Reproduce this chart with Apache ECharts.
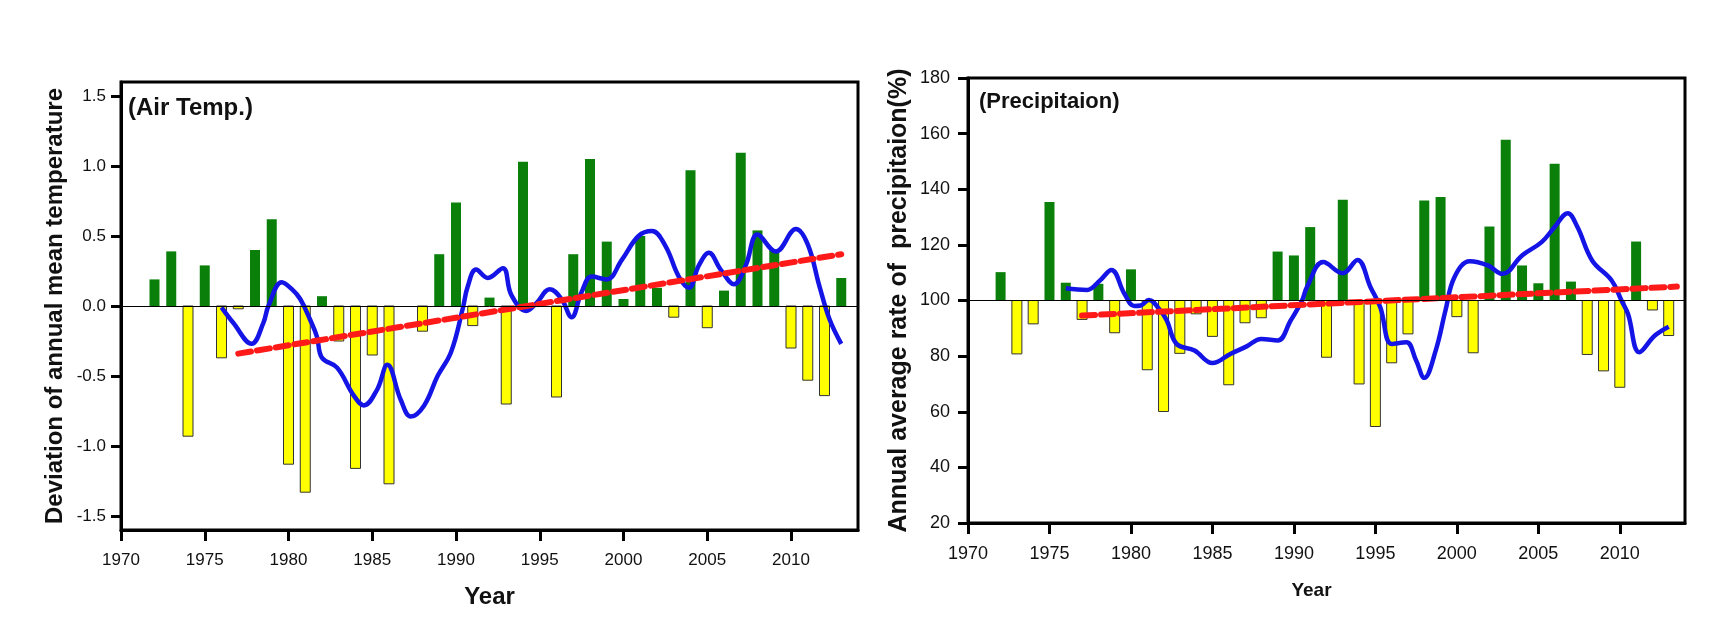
<!DOCTYPE html>
<html><head><meta charset="utf-8">
<script src="https://cdn.jsdelivr.net/npm/echarts@6/dist/echarts.min.js"></script>
<style>html,body{margin:0;padding:0;background:#fff}#c{width:1732px;height:629px}</style>
</head><body><div id="c"></div>
<script>
const FONT = '"Liberation Sans", Arial, sans-serif';

// ---- shared ticks ----
const xTickYears = [1970, 1975, 1980, 1985, 1990, 1995, 2000, 2005, 2010];
const tempTicks = [-1.5, -1.0, -0.5, 0, 0.5, 1.0, 1.5];
const precipTicks = [20, 40, 60, 80, 100, 120, 140, 160, 180];

// ---- left panel: air temperature deviation ----
const tempYears = [1972,1973,1974,1975,1976,1977,1978,1979,1980,1981,1982,1983,1984,1985,1986,1988,1989,1990,1991,1992,1993,1994,1996,1997,1998,1999,2000,2001,2002,2003,2004,2005,2006,2007,2008,2009,2010,2011,2012,2013];
const tempDev = [0.19,0.39,-0.93,0.29,-0.37,-0.02,0.40,0.62,-1.13,-1.33,0.07,-0.25,-1.16,-0.35,-1.27,-0.18,0.37,0.74,-0.14,0.06,-0.70,1.03,-0.65,0.37,1.05,0.46,0.05,0.50,0.13,-0.08,0.97,-0.155,0.11,1.095,0.54,0.40,-0.30,-0.53,-0.64,0.20];
const tempSmoothX = [1976.0,1976.7,1977.8,1978.5,1978.8,1979.6,1980.2,1980.7,1981.3,1981.7,1982.0,1982.9,1983.9,1984.5,1985.3,1985.9,1986.7,1987.3,1988.1,1988.9,1989.7,1990.4,1990.7,1991.2,1991.9,1992.8,1993.3,1994.2,1994.8,1995.6,1996.3,1996.9,1997.5,1998.1,1999.0,1999.9,2000.9,2001.7,2002.5,2003.3,2003.9,2004.5,2005.1,2005.8,2006.6,2007.3,2008.0,2009.1,2010.3,2011.0,2011.7,2012.3,2013.0];
const tempSmoothY = [-0.01,-0.12,-0.27,-0.12,0.0,0.17,0.12,0.05,-0.10,-0.22,-0.37,-0.44,-0.64,-0.71,-0.595,-0.42,-0.67,-0.79,-0.71,-0.50,-0.33,-0.02,0.14,0.26,0.20,0.27,0.08,-0.035,0.02,0.12,0.05,-0.08,0.10,0.21,0.19,0.33,0.50,0.535,0.43,0.21,0.13,0.29,0.38,0.26,0.155,0.29,0.51,0.39,0.55,0.44,0.14,-0.095,-0.27];
const tempTrendX = [1977, 2013];
const tempTrendY = [-0.34, 0.37];

// ---- right panel: precipitation rate ----
const precipYears = [1972,1973,1974,1975,1976,1977,1978,1979,1980,1981,1982,1983,1984,1985,1986,1987,1988,1989,1990,1991,1992,1993,1994,1995,1996,1997,1998,1999,2000,2001,2002,2003,2004,2005,2006,2007,2008,2009,2010,2011,2012,2013];
const precipRate = [110.2,80.8,91.6,135.4,106.4,93.2,106.0,88.4,111.2,75.1,60.1,81.0,95.2,87.1,69.7,92.0,93.8,117.6,116.2,126.4,79.6,136.2,70.0,54.7,77.6,88.0,136.0,137.2,94.2,81.2,126.6,157.8,112.6,106.2,149.2,106.8,80.6,74.7,68.8,121.2,96.6,87.4];
const precipSmoothX = [1976.0,1977.3,1978.1,1978.8,1979.6,1980.2,1980.6,1981.1,1981.8,1982.2,1982.8,1983.9,1985.0,1986.1,1987.1,1988.0,1989.0,1989.8,1990.5,1990.8,1991.8,1993.0,1993.9,1994.7,1995.3,1996.0,1996.9,1997.5,1998.0,1998.7,1999.3,1999.85,2000.8,2001.9,2002.8,2004.0,2005.2,2006.0,2006.8,2007.4,2008.3,2009.5,2010.1,2010.5,2011.2,2012.15,2013.0];
const precipSmoothY = [104.4,103.8,107.2,111.0,102.4,98.0,98.2,100.2,96.4,92.8,84.4,82.0,77.5,80.8,83.5,86.2,85.6,92.8,100,104.8,113.8,109.8,114.6,104.8,97.6,84.4,85.0,78.4,72.2,82.0,96.4,108.4,114.1,112.6,109.6,116.2,121.0,126.4,131.4,126.4,114.4,107.2,100,95.2,81.4,87.4,90.6];
const precipTrendX = [1977, 2013.5];
const precipTrendY = [94.6, 105.0];

const zip = (a, b) => a.map((v, i) => [v, b[i]]);

function makeBars(base) {
  return function (params, api) {
    const x = api.value(0), v = api.value(1);
    const p0 = api.coord([x, base]);
    const p1 = api.coord([x, v]);
    const w = 10;
    const up = v >= base;
    return {
      type: 'rect',
      shape: { x: p0[0] - w / 2, y: Math.min(p0[1], p1[1]), width: w, height: Math.abs(p1[1] - p0[1]) },
      style: up ? { fill: '#0a800a' } : { fill: '#ffff00', stroke: '#333', lineWidth: 1 }
    };
  };
}

function xAxisCfg(gi, fs, gap, nameFs, pad) {
  return {
    type: 'value', gridIndex: gi, min: 1970, max: 2014,
    axisLine: { show: true, onZero: false, lineStyle: { color: '#000', width: 3 } },
    axisTick: { show: true, customValues: xTickYears, length: 11, lineStyle: { color: '#000', width: 3 } },
    axisLabel: { customValues: xTickYears, formatter: v => String(v), margin: 22, fontSize: fs, color: '#111', fontFamily: FONT },
    splitLine: { show: false },
    name: 'Year', nameLocation: 'middle', nameGap: gap,
    nameTextStyle: { fontSize: nameFs, fontWeight: 'bold', color: '#111', fontFamily: FONT, padding: pad }
  };
}

const chart = echarts.init(document.getElementById('c'), null, { renderer: 'canvas' });
chart.setOption({
  backgroundColor: '#fff',
  animation: false,
  grid: [
    { left: 121, top: 82, width: 737, height: 448, show: true, borderColor: '#000', borderWidth: 3, backgroundColor: 'transparent' },
    { left: 968, top: 78, width: 717, height: 445, show: true, borderColor: '#000', borderWidth: 3, backgroundColor: 'transparent' }
  ],
  xAxis: [
    xAxisCfg(0, 17, 55, 24, [0, 0, 0, 0]),
    xAxisCfg(1, 18, 58, 19, [0, 30, 0, 0])
  ],
  yAxis: [
    {
      type: 'value', gridIndex: 0, min: -1.6, max: 1.6,
      axisLine: { show: true, onZero: false, lineStyle: { color: '#000', width: 3 } },
      axisTick: { show: true, customValues: tempTicks, length: 10, lineStyle: { color: '#000', width: 3 } },
      axisLabel: { customValues: tempTicks, formatter: v => Number(v).toFixed(1), margin: 15, fontSize: 17, color: '#111', fontFamily: FONT },
      splitLine: { show: false },
      name: 'Deviation of annual mean temperature', nameLocation: 'middle', nameGap: 54, nameRotate: 90,
      nameTextStyle: { fontSize: 24, fontWeight: 'bold', color: '#111', fontFamily: FONT }
    },
    {
      type: 'value', gridIndex: 1, min: 20, max: 180,
      axisLine: { show: true, onZero: false, lineStyle: { color: '#000', width: 3 } },
      axisTick: { show: true, customValues: precipTicks, length: 10, lineStyle: { color: '#000', width: 3 } },
      axisLabel: { customValues: precipTicks, margin: 18, fontSize: 18, color: '#111', fontFamily: FONT },
      splitLine: { show: false },
      name: 'Annual average rate of  precipitaion(%)', nameLocation: 'middle', nameGap: 56, nameRotate: 90,
      nameTextStyle: { fontSize: 25, fontWeight: 'bold', color: '#111', fontFamily: FONT }
    }
  ],
  graphic: [
    { type: 'text', left: 128, top: 96, style: { text: '(Air Temp.)', font: 'bold 24px "Liberation Sans", Arial, sans-serif', fill: '#111' } },
    { type: 'text', left: 979, top: 91, style: { text: '(Precipitaion)', font: 'bold 22px "Liberation Sans", Arial, sans-serif', fill: '#111' } }
  ],
  series: [
    {
      type: 'custom', name: 'Temp deviation', xAxisIndex: 0, yAxisIndex: 0, clip: true,
      renderItem: makeBars(0), encode: { x: 0, y: 1 }, data: zip(tempYears, tempDev), z: 2,
      markLine: { silent: true, symbol: 'none', label: { show: false }, lineStyle: { color: '#000', width: 1, type: 'solid' }, data: [{ yAxis: 0 }] }
    },
    {
      type: 'line', xAxisIndex: 0, yAxisIndex: 0, smooth: 0.4, showSymbol: false, z: 3,
      lineStyle: { color: '#1414e6', width: 4.5 }, data: zip(tempSmoothX, tempSmoothY)
    },
    {
      type: 'line', xAxisIndex: 0, yAxisIndex: 0, showSymbol: false, z: 4,
      lineStyle: { color: '#ff1a1a', width: 6, type: [13, 6], cap: 'round' }, data: zip(tempTrendX, tempTrendY)
    },
    {
      type: 'custom', name: 'Precipitation rate', xAxisIndex: 1, yAxisIndex: 1, clip: true,
      renderItem: makeBars(100), encode: { x: 0, y: 1 }, data: zip(precipYears, precipRate), z: 2,
      markLine: { silent: true, symbol: 'none', label: { show: false }, lineStyle: { color: '#000', width: 1, type: 'solid' }, data: [{ yAxis: 100 }] }
    },
    {
      type: 'line', xAxisIndex: 1, yAxisIndex: 1, smooth: 0.4, showSymbol: false, z: 3,
      lineStyle: { color: '#1414e6', width: 4.5 }, data: zip(precipSmoothX, precipSmoothY)
    },
    {
      type: 'line', xAxisIndex: 1, yAxisIndex: 1, showSymbol: false, z: 4,
      lineStyle: { color: '#ff1a1a', width: 6, type: [13, 6], cap: 'round' }, data: zip(precipTrendX, precipTrendY)
    }
  ]
});
</script>
</body></html>
